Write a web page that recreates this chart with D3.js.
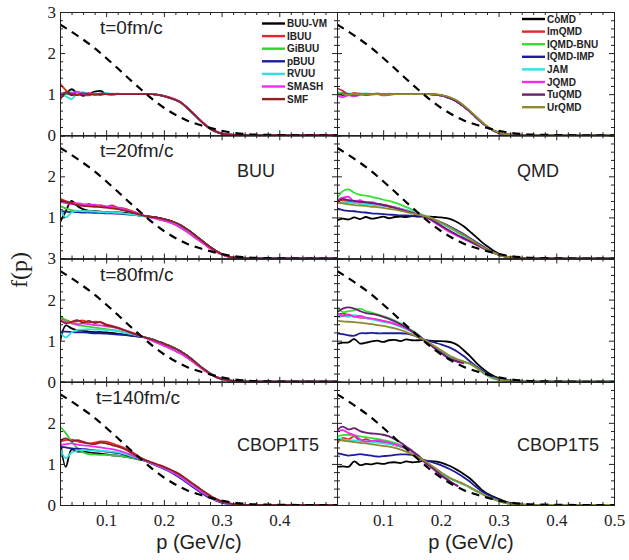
<!DOCTYPE html>
<html><head><meta charset="utf-8">
<script src="https://cdn.jsdelivr.net/npm/d3@7"></script>
<style>body{margin:0;background:#fff}</style>
</head><body>
<script>
// ---------- DATA ----------
const pGrid = [0.02,0.03,0.04,0.05,0.06,0.07,0.08,0.09,0.10,0.11,0.12,0.13,0.14,0.15,0.16,0.17,0.18,0.19,0.20,0.21,0.22,0.23,0.24,0.25,0.26,0.27,0.28,0.29,0.30,0.31,0.32,0.33,0.34,0.38,0.44,0.50];

const buuModels = ["BUU-VM","IBUU","GiBUU","pBUU","RVUU","SMASH","SMF"];
const buuColors = ["#000000","#e3262a","#35d035","#1c1ca0","#2fe0e0","#ee2aee","#8e2222"];
const qmdModels = ["CoMD","ImQMD","IQMD-BNU","IQMD-IMP","JAM","JQMD","TuQMD","UrQMD"];
const qmdColors = ["#000000","#e3262a","#35e035","#1c1ca0","#2fe0e0","#ee2aee","#6a1e70","#8e8a2e"];

const panelTimes = ["t=0fm/c","t=20fm/c","t=80fm/c","t=140fm/c"];
const leftTags = ["","BUU","","CBOP1T5"];
const rightTags = ["","QMD","","CBOP1T5"];

const xTicks = [0.1,0.2,0.3,0.4,0.5];
const xMinorTicks = [0.04,0.06,0.08,0.12,0.14,0.16,0.18,0.22,0.24,0.26,0.28,0.32,0.34,0.36,0.38,0.42,0.44,0.46,0.48];
const yTicksByRow = [[0,1,2,3],[1,2],[0,1,2,3],[0,1,2]];

// dashed reference distribution
const dashP = [0.02,0.04,0.06,0.08,0.10,0.12,0.14,0.16,0.18,0.20,0.22,0.24,0.26,0.28,0.30,0.32,0.34,0.36,0.40,0.45,0.50];
const dashF = [2.70,2.52,2.33,2.12,1.88,1.63,1.37,1.12,0.88,0.67,0.50,0.36,0.26,0.18,0.11,0.06,0.03,0.015,0.005,0,0];

// t = 0 fm/c
const buuT0 = [
[0.92,1.00,1.12,1.02,0.96,1.00,1.06,1.08,1.00,0.99,1.00,1.00,1.00,1.00,1.00,1.00,1.00,0.98,0.95,0.91,0.86,0.79,0.67,0.54,0.40,0.27,0.16,0.09,0.04,0.02,0.01,0.005,0,0.005,0,0],
[1.26,1.10,0.98,1.05,1.00,0.97,1.02,0.98,1.01,1.00,1.01,1.00,1.00,1.00,1.00,1.00,1.00,0.98,0.96,0.92,0.87,0.80,0.68,0.55,0.41,0.28,0.17,0.09,0.04,0.02,0.01,0.005,0,0,0,0],
[1.02,1.00,1.04,0.99,1.00,1.02,1.00,1.01,1.00,1.00,1.00,1.00,1.00,1.00,1.00,1.00,1.00,0.98,0.95,0.91,0.86,0.78,0.66,0.53,0.40,0.27,0.16,0.09,0.04,0.02,0.01,0,0,0,0,0],
[1.00,1.03,0.98,1.02,1.00,1.01,0.99,1.00,1.00,1.00,1.00,1.00,1.00,1.00,1.00,1.00,1.00,0.98,0.95,0.91,0.86,0.79,0.67,0.54,0.40,0.27,0.16,0.09,0.04,0.02,0.01,0,0,0,0,0],
[1.05,0.95,0.88,1.02,1.05,1.00,1.02,1.00,1.03,1.00,1.00,1.00,1.00,1.00,1.00,1.00,1.00,0.98,0.95,0.91,0.86,0.79,0.67,0.54,0.40,0.27,0.16,0.09,0.04,0.02,0.01,0,0,0,0,0],
[1.00,1.04,1.02,1.06,1.00,1.03,1.00,1.02,1.00,1.01,1.00,1.00,1.00,1.00,1.00,1.00,1.00,0.98,0.95,0.92,0.87,0.80,0.68,0.55,0.41,0.28,0.17,0.10,0.05,0.02,0.01,0,0,0,0,0],
[0.85,1.05,1.00,0.98,1.02,1.00,0.99,1.00,1.00,1.00,1.00,1.00,1.00,1.00,1.00,1.00,1.00,0.98,0.95,0.91,0.86,0.79,0.67,0.54,0.40,0.27,0.16,0.09,0.04,0.02,0.01,0.005,0,0,0,0]
];
const qmdT0 = [
[1.00,1.02,0.99,1.00,1.01,0.99,1.00,1.01,1.00,1.00,1.00,1.00,1.00,1.00,1.00,1.00,1.00,0.99,0.97,0.93,0.88,0.80,0.70,0.58,0.45,0.32,0.21,0.12,0.06,0.03,0.015,0.005,0,0,0,0],
[1.15,1.08,1.00,1.03,1.00,0.98,1.00,1.00,1.00,1.00,1.00,1.00,1.00,1.00,1.00,1.00,1.00,0.99,0.97,0.93,0.88,0.80,0.70,0.58,0.45,0.32,0.21,0.12,0.06,0.03,0.015,0.005,0,0,0,0],
[1.05,1.02,1.00,1.01,1.00,1.00,1.00,1.00,1.00,1.00,1.00,1.00,1.00,1.00,1.00,1.00,1.00,0.99,0.97,0.94,0.89,0.81,0.71,0.59,0.46,0.33,0.21,0.12,0.06,0.03,0.015,0.005,0,0,0,0],
[1.00,0.98,1.00,0.99,1.00,1.00,1.00,1.00,1.00,1.00,1.00,1.00,1.00,1.00,1.00,1.00,1.00,0.99,0.97,0.93,0.88,0.80,0.70,0.58,0.45,0.32,0.21,0.12,0.06,0.03,0.015,0.005,0,0,0,0],
[1.03,1.00,1.02,1.00,1.01,1.02,1.00,1.01,1.00,1.01,1.00,1.00,1.00,1.00,1.00,1.00,1.00,0.99,0.97,0.93,0.88,0.80,0.70,0.58,0.45,0.32,0.21,0.12,0.06,0.03,0.015,0.005,0,0,0,0],
[0.96,0.93,0.97,0.95,0.98,1.00,0.99,1.00,0.97,0.98,1.00,1.00,1.00,1.00,1.00,1.00,1.00,0.99,0.97,0.93,0.88,0.80,0.70,0.58,0.45,0.32,0.21,0.12,0.06,0.03,0.015,0.005,0,0,0,0],
[1.00,1.01,1.00,0.99,1.00,1.00,1.00,1.00,1.00,1.00,1.00,1.00,1.00,1.00,1.00,1.00,1.00,0.99,0.97,0.93,0.88,0.80,0.70,0.58,0.45,0.32,0.21,0.12,0.06,0.03,0.015,0.005,0,0,0,0],
[1.02,1.00,0.99,1.00,1.00,1.00,1.00,1.00,1.00,1.00,1.00,1.00,1.00,1.00,1.00,1.00,1.00,1.00,0.98,0.95,0.90,0.83,0.72,0.60,0.47,0.34,0.22,0.13,0.07,0.03,0.015,0.005,0,0,0,0]
];

// t = 20 fm/c
const buuT20 = [
[0.88,1.15,1.40,1.28,1.20,1.16,1.15,1.14,1.13,1.12,1.12,1.11,1.10,1.07,1.05,1.03,1.01,0.99,0.96,0.92,0.87,0.80,0.71,0.61,0.50,0.39,0.28,0.19,0.11,0.06,0.03,0.015,0.005,0,0,0],
[1.46,1.40,1.36,1.32,1.30,1.33,1.28,1.30,1.26,1.29,1.24,1.22,1.18,1.13,1.07,1.02,0.99,0.96,0.92,0.88,0.82,0.74,0.65,0.55,0.45,0.35,0.25,0.17,0.10,0.05,0.03,0.01,0.005,0,0,0],
[1.28,1.22,1.18,1.16,1.15,1.14,1.14,1.13,1.12,1.11,1.10,1.09,1.08,1.06,1.04,1.02,1.00,0.97,0.94,0.90,0.84,0.77,0.68,0.58,0.48,0.37,0.27,0.18,0.11,0.06,0.03,0.015,0.005,0,0,0],
[1.15,1.14,1.13,1.13,1.12,1.12,1.11,1.11,1.10,1.10,1.09,1.08,1.07,1.06,1.04,1.03,1.01,0.99,0.96,0.92,0.87,0.80,0.71,0.61,0.50,0.39,0.28,0.19,0.11,0.06,0.03,0.015,0.005,0,0,0],
[1.20,1.00,1.12,1.16,1.15,1.15,1.14,1.13,1.12,1.12,1.11,1.10,1.08,1.06,1.04,1.02,1.00,0.97,0.94,0.90,0.84,0.77,0.68,0.58,0.48,0.37,0.27,0.18,0.11,0.06,0.03,0.015,0.005,0,0,0],
[1.38,1.35,1.33,1.35,1.32,1.30,1.31,1.28,1.27,1.25,1.23,1.20,1.16,1.12,1.07,1.02,0.99,0.96,0.92,0.88,0.82,0.74,0.65,0.55,0.45,0.35,0.25,0.17,0.10,0.05,0.03,0.01,0.005,0,0,0],
[1.42,1.38,1.34,1.30,1.28,1.27,1.26,1.25,1.24,1.22,1.20,1.17,1.14,1.10,1.06,1.03,1.01,0.99,0.96,0.92,0.87,0.80,0.71,0.61,0.50,0.39,0.28,0.19,0.11,0.06,0.03,0.015,0.005,0,0,0]
];
const qmdT20 = [
[0.93,0.97,0.95,1.00,0.96,1.01,0.97,0.99,1.02,0.98,1.01,1.02,1.01,1.03,1.02,1.02,1.02,1.01,1.00,0.98,0.94,0.87,0.78,0.66,0.54,0.41,0.30,0.20,0.12,0.06,0.03,0.01,0.005,0,0,0],
[1.40,1.42,1.38,1.40,1.37,1.36,1.35,1.33,1.31,1.28,1.25,1.21,1.17,1.13,1.09,1.05,1.00,0.93,0.86,0.79,0.71,0.63,0.55,0.47,0.38,0.29,0.21,0.15,0.09,0.05,0.03,0.015,0.005,0,0,0],
[1.46,1.64,1.68,1.60,1.55,1.53,1.50,1.47,1.43,1.40,1.36,1.31,1.25,1.19,1.12,1.05,1.00,0.93,0.86,0.79,0.71,0.63,0.55,0.47,0.38,0.29,0.21,0.15,0.09,0.05,0.03,0.015,0.005,0,0,0],
[1.22,1.18,1.16,1.15,1.13,1.12,1.10,1.09,1.08,1.07,1.06,1.05,1.05,1.04,1.04,1.03,0.99,0.94,0.88,0.82,0.75,0.67,0.59,0.50,0.41,0.32,0.23,0.16,0.10,0.05,0.03,0.01,0.005,0,0,0],
[1.35,1.37,1.36,1.35,1.33,1.32,1.31,1.29,1.28,1.26,1.24,1.21,1.18,1.14,1.10,1.05,1.00,0.93,0.86,0.79,0.71,0.63,0.55,0.47,0.38,0.29,0.21,0.15,0.09,0.05,0.03,0.015,0.005,0,0,0],
[1.42,1.48,1.50,1.38,1.42,1.36,1.37,1.33,1.30,1.27,1.24,1.20,1.16,1.12,1.08,1.03,0.96,0.87,0.78,0.69,0.61,0.54,0.47,0.41,0.34,0.27,0.20,0.14,0.09,0.05,0.03,0.015,0.005,0,0,0],
[1.38,1.45,1.42,1.40,1.38,1.37,1.35,1.33,1.30,1.27,1.23,1.19,1.15,1.11,1.07,1.03,0.97,0.89,0.80,0.72,0.64,0.56,0.49,0.42,0.35,0.28,0.21,0.15,0.09,0.05,0.03,0.015,0.005,0,0,0],
[1.36,1.34,1.32,1.30,1.29,1.28,1.26,1.25,1.23,1.21,1.19,1.16,1.13,1.10,1.07,1.04,1.00,0.94,0.88,0.81,0.73,0.65,0.57,0.48,0.39,0.30,0.22,0.15,0.09,0.05,0.03,0.015,0.005,0,0,0]
];

// t = 80 fm/c
const buuT80 = [
[0.96,1.37,1.30,1.25,1.24,1.22,1.21,1.21,1.20,1.19,1.17,1.15,1.13,1.11,1.09,1.07,1.03,0.98,0.93,0.87,0.81,0.73,0.64,0.53,0.41,0.30,0.20,0.12,0.07,0.04,0.02,0.01,0.005,0,0,0],
[1.55,1.50,1.45,1.47,1.49,1.44,1.46,1.45,1.40,1.36,1.32,1.27,1.22,1.17,1.12,1.06,1.00,0.94,0.88,0.82,0.75,0.68,0.59,0.49,0.38,0.28,0.19,0.12,0.07,0.04,0.02,0.01,0.005,0,0,0],
[1.60,1.50,1.42,1.38,1.36,1.34,1.32,1.30,1.28,1.26,1.24,1.21,1.17,1.13,1.10,1.07,1.03,0.98,0.93,0.87,0.81,0.73,0.64,0.53,0.41,0.30,0.20,0.12,0.07,0.04,0.02,0.01,0.005,0,0,0],
[1.22,1.22,1.21,1.20,1.20,1.19,1.18,1.18,1.17,1.16,1.15,1.14,1.13,1.11,1.09,1.07,1.03,0.98,0.93,0.87,0.81,0.73,0.64,0.53,0.41,0.30,0.20,0.12,0.07,0.04,0.02,0.01,0.005,0,0,0],
[1.22,1.08,1.20,1.26,1.27,1.28,1.27,1.27,1.26,1.25,1.23,1.20,1.17,1.14,1.10,1.07,1.03,0.98,0.93,0.87,0.81,0.73,0.64,0.53,0.41,0.30,0.20,0.12,0.07,0.04,0.02,0.01,0.005,0,0,0],
[1.49,1.46,1.43,1.40,1.42,1.40,1.38,1.37,1.35,1.33,1.30,1.26,1.21,1.16,1.11,1.06,1.00,0.94,0.88,0.82,0.75,0.68,0.59,0.49,0.38,0.28,0.19,0.12,0.07,0.04,0.02,0.01,0.005,0,0,0],
[1.50,1.42,1.46,1.50,1.44,1.48,1.43,1.45,1.38,1.35,1.31,1.26,1.21,1.16,1.11,1.07,1.03,0.98,0.93,0.87,0.81,0.73,0.64,0.53,0.41,0.30,0.20,0.12,0.07,0.04,0.02,0.01,0.005,0,0,0]
];
const qmdT80 = [
[0.92,0.95,0.96,1.04,0.93,0.95,0.98,1.00,0.97,1.01,1.02,0.99,1.03,1.01,1.01,1.02,1.00,0.99,0.99,0.98,0.95,0.88,0.76,0.63,0.48,0.35,0.24,0.15,0.09,0.05,0.03,0.015,0.005,0,0,0],
[1.63,1.66,1.62,1.60,1.56,1.55,1.53,1.51,1.48,1.45,1.41,1.36,1.30,1.22,1.14,1.03,0.94,0.84,0.74,0.64,0.57,0.52,0.48,0.44,0.36,0.25,0.16,0.09,0.05,0.03,0.015,0.005,0,0,0,0],
[1.82,1.70,1.72,1.74,1.78,1.72,1.68,1.64,1.60,1.55,1.49,1.42,1.34,1.25,1.16,1.03,0.94,0.84,0.74,0.64,0.57,0.52,0.48,0.44,0.36,0.25,0.16,0.09,0.05,0.03,0.015,0.005,0,0,0,0],
[1.18,1.16,1.13,1.12,1.18,1.18,1.19,1.18,1.18,1.18,1.18,1.18,1.17,1.14,1.09,1.03,0.99,0.95,0.91,0.86,0.80,0.72,0.62,0.50,0.39,0.29,0.20,0.13,0.08,0.04,0.02,0.01,0.005,0,0,0],
[1.56,1.60,1.58,1.62,1.58,1.55,1.52,1.49,1.46,1.43,1.39,1.34,1.28,1.21,1.13,1.03,0.94,0.84,0.74,0.64,0.57,0.52,0.48,0.44,0.36,0.25,0.16,0.09,0.05,0.03,0.015,0.005,0,0,0,0],
[1.66,1.60,1.64,1.58,1.60,1.56,1.54,1.51,1.48,1.45,1.41,1.36,1.30,1.22,1.14,1.02,0.92,0.80,0.70,0.60,0.53,0.48,0.45,null,null,null,null,null,null,null,null,null,null,null,null,null],
[1.69,1.78,1.81,1.78,1.72,1.67,1.65,1.62,1.58,1.53,1.47,1.40,1.32,1.23,1.14,1.02,0.92,0.81,0.71,0.61,0.54,0.49,0.46,null,null,null,null,null,null,null,null,null,null,null,null,null],
[1.49,1.47,1.46,1.45,1.44,1.42,1.40,1.38,1.36,1.33,1.30,1.26,1.21,1.15,1.09,1.03,0.95,0.86,0.77,0.68,0.60,0.54,0.49,0.44,0.36,0.26,0.17,0.10,0.05,0.03,0.015,0.005,0,0,0,0]
];

// t = 140 fm/c
const buuT140 = [
[1.60,0.93,1.35,1.30,1.30,1.28,1.26,1.25,1.23,1.21,1.20,1.18,1.16,1.13,1.10,1.07,1.01,0.96,0.90,0.83,0.76,0.67,0.57,0.47,0.37,0.28,0.20,0.13,0.08,0.04,0.02,0.01,0.005,0,0,0],
[1.54,1.58,1.59,1.55,1.52,1.50,1.52,1.55,1.54,1.50,1.45,1.40,1.33,1.24,1.15,1.08,1.03,0.98,0.93,0.87,0.80,0.72,0.62,0.52,0.42,0.32,0.23,0.15,0.09,0.05,0.02,0.01,0.005,0,0,0],
[1.91,1.75,1.55,1.38,1.28,1.24,1.23,1.22,1.22,1.21,1.20,1.18,1.16,1.13,1.10,1.07,1.01,0.96,0.90,0.83,0.76,0.67,0.57,0.47,0.37,0.28,0.20,0.13,0.08,0.04,0.02,0.01,0.005,0,0,0],
[1.42,1.40,1.38,1.37,1.36,1.35,1.33,1.32,1.30,1.28,1.26,1.23,1.19,1.15,1.11,1.06,1.00,0.94,0.88,0.81,0.73,0.64,0.54,0.44,0.34,0.25,0.17,0.11,0.06,0.03,0.015,0.005,0,0,0,0],
[1.38,1.14,1.28,1.32,1.34,1.33,1.33,1.32,1.31,1.30,1.28,1.25,1.21,1.16,1.12,1.07,1.01,0.96,0.90,0.83,0.76,0.67,0.57,0.47,0.37,0.28,0.20,0.13,0.08,0.04,0.02,0.01,0.005,0,0,0],
[1.46,1.48,1.50,1.47,1.45,1.44,1.42,1.40,1.38,1.36,1.33,1.29,1.24,1.18,1.12,1.07,1.01,0.96,0.90,0.83,0.76,0.67,0.57,0.47,0.37,0.28,0.20,0.13,0.08,0.04,0.02,0.01,0.005,0,0,0],
[1.56,1.62,1.55,1.58,1.54,1.50,1.48,1.52,1.50,1.46,1.42,1.37,1.30,1.22,1.14,1.08,1.03,0.98,0.93,0.87,0.80,0.72,0.62,0.52,0.42,0.32,0.23,0.15,0.09,0.05,0.02,0.01,0.005,0,0,0]
];
const qmdT140 = [
[0.93,0.94,0.93,1.06,0.97,1.00,0.99,1.02,1.00,1.03,1.04,1.02,1.06,1.04,1.05,1.08,1.07,1.06,1.03,0.98,0.92,0.84,0.75,0.65,0.52,0.38,0.28,0.21,0.15,0.09,0.05,0.025,0.01,0,0,0],
[1.50,1.63,1.60,1.67,1.56,1.60,1.55,1.54,1.52,1.49,1.46,1.42,1.37,1.29,1.20,1.08,0.98,0.88,0.78,0.69,0.62,0.56,0.50,0.43,0.35,0.28,0.21,0.15,0.10,0.06,0.03,0.015,0.005,0,0,0],
[1.67,1.70,1.71,1.69,1.67,1.65,1.63,1.61,1.58,1.55,1.51,1.46,1.39,1.31,1.21,1.08,0.98,0.88,0.78,0.69,0.62,0.56,0.50,0.43,0.35,0.28,0.21,0.15,0.10,0.06,0.03,0.015,0.005,0,0,0],
[1.26,1.23,1.20,1.22,1.24,1.22,1.20,1.18,1.19,1.20,1.22,1.23,1.23,1.22,1.16,1.10,1.06,1.02,0.97,0.91,0.84,0.76,0.67,0.57,0.45,0.34,0.26,0.19,0.13,0.08,0.04,0.02,0.01,0,0,0],
[1.63,1.60,1.58,1.57,1.56,1.55,1.54,1.52,1.50,1.48,1.46,1.43,1.38,1.30,1.21,1.08,0.98,0.88,0.78,0.69,0.62,0.56,0.50,0.43,0.35,0.28,0.21,0.15,0.10,0.06,0.03,0.015,0.005,0,0,0],
[1.79,1.82,1.75,1.70,1.60,1.54,1.56,1.58,1.55,1.52,1.48,1.44,1.38,1.30,1.20,1.06,0.95,0.84,0.72,0.62,0.53,0.45,null,null,null,null,null,null,null,null,null,null,null,null,null,null],
[1.83,1.91,1.84,1.87,1.80,1.76,1.74,1.73,1.71,1.67,1.60,1.52,1.42,1.32,1.21,1.07,0.96,0.85,0.73,0.63,0.54,0.46,null,null,null,null,null,null,null,null,null,null,null,null,null,null],
[1.59,1.57,1.55,1.53,1.51,1.50,1.48,1.46,1.44,1.42,1.39,1.35,1.30,1.24,1.17,1.09,1.00,0.90,0.80,0.71,0.63,0.57,0.51,0.44,0.36,0.28,0.21,0.15,0.10,0.06,0.03,0.015,0.005,0,0,0]
];

const buuPanels = [buuT0, buuT20, buuT80, buuT140];
const qmdPanels = [qmdT0, qmdT20, qmdT80, qmdT140];

// ---------- LAYOUT ----------
const W = 629, H = 560;
const colX = [[60,337],[337,614]];
const top0 = 12, panelH = 123.25;
const svg = d3.select("body").append("svg").attr("width",W).attr("height",H)
  .style("font-family","'Liberation Sans', Arial, sans-serif");
svg.append("rect").attr("width",W).attr("height",H).attr("fill","#fff");

const serif = "'Liberation Serif','Times New Roman',serif";

function drawPanel(row, col) {
  const x = d3.scaleLinear().domain([0.02,0.5]).range(colX[col]);
  const yTop = top0 + panelH*row, yBot = yTop + panelH;
  const y = d3.scaleLinear().domain([0,3]).range([yBot, yTop]);
  const g = svg.append("g");
  const clipId = `clip-${row}-${col}`;
  g.append("clipPath").attr("id",clipId).append("rect")
    .attr("x",colX[col][0]).attr("y",yTop).attr("width",colX[col][1]-colX[col][0]).attr("height",panelH);

  const data = col===0 ? buuPanels[row] : qmdPanels[row];
  const colors = col===0 ? buuColors : qmdColors;
  const line = d3.line().defined(d => d[1] != null)
    .x(d => x(d[0])).y(d => y(d[1])).curve(d3.curveCatmullRom.alpha(0.5));
  const cg = g.append("g").attr("clip-path",`url(#${clipId})`);
  data.forEach((vals,i) => {
    cg.append("path").datum(pGrid.map((p,k)=>[p, vals[k]]))
      .attr("d", line).attr("fill","none").attr("stroke",colors[i])
      .attr("stroke-width", 1.8).attr("stroke-linejoin","round");
  });
  cg.append("path").datum(dashP.map((p,k)=>[p, dashF[k]]))
    .attr("d", d3.line().x(d=>x(d[0])).y(d=>y(d[1])).curve(d3.curveMonotoneX))
    .attr("fill","none").attr("stroke","#000").attr("stroke-width",2.2)
    .attr("stroke-dasharray","8,6");

  const axStyle = sel => { sel.select(".domain").attr("stroke","#222"); sel.selectAll(".tick line").attr("stroke","#222"); };
  const isBottom = row===3;
  const bMaj = d3.axisBottom(x).tickValues(col===0 ? xTicks.slice(0,4) : xTicks).tickSize(-5).tickPadding(9)
    .tickFormat(isBottom ? d3.format(".1f") : "");
  const bAx = g.append("g").attr("transform",`translate(0,${yBot})`).call(bMaj).call(axStyle);
  bAx.selectAll("text").attr("font-family",serif).attr("font-size",17).attr("fill","#222");
  g.append("g").attr("transform",`translate(0,${yBot})`)
    .call(d3.axisBottom(x).tickValues(xMinorTicks).tickSize(-3).tickFormat("")).call(axStyle);
  g.append("g").attr("transform",`translate(0,${yTop})`)
    .call(d3.axisTop(x).tickValues(xTicks).tickSize(-5).tickFormat("")).call(axStyle);
  g.append("g").attr("transform",`translate(0,${yTop})`)
    .call(d3.axisTop(x).tickValues(xMinorTicks).tickSize(-3).tickFormat("")).call(axStyle);

  const yMinor = d3.range(1,15).map(k=>k*0.2).filter(v => Math.abs(v - Math.round(v))>1e-6);
  const lMaj = d3.axisLeft(y).tickValues(col===0 ? yTicksByRow[row] : [1,2]).tickSize(-5).tickPadding(4)
    .tickFormat(col===0 ? d3.format("d") : "");
  const lAx = g.append("g").attr("transform",`translate(${colX[col][0]},0)`).call(lMaj).call(axStyle);
  lAx.selectAll("text").attr("font-family",serif).attr("font-size",17).attr("fill","#222");
  g.append("g").attr("transform",`translate(${colX[col][0]},0)`)
    .call(d3.axisLeft(y).tickValues(yMinor).tickSize(-3).tickFormat("")).call(axStyle);
  g.append("g").attr("transform",`translate(${colX[col][1]},0)`)
    .call(d3.axisRight(y).tickValues([1,2]).tickSize(-5).tickFormat("")).call(axStyle);
  g.append("g").attr("transform",`translate(${colX[col][1]},0)`)
    .call(d3.axisRight(y).tickValues(yMinor).tickSize(-3).tickFormat("")).call(axStyle);

  if (col===0) {
    g.append("text").attr("x", row===3 ? 96 : 100).attr("y", yTop + 22)
      .attr("font-size",19).attr("fill","#222").text(panelTimes[row]);
  }
  const tag = col===0 ? leftTags[row] : rightTags[row];
  if (tag) {
    g.append("text").attr("x", col===0 ? 237 : 517).attr("y", row===1 ? yTop+42 : yTop+69)
      .attr("font-size",18).attr("fill","#222").text(tag);
  }
}

for (let r=0;r<4;r++) for (let c=0;c<2;c++) drawPanel(r,c);

function legend(models, colors, x0, y0, dy) {
  const lg = svg.append("g");
  models.forEach((m,i) => {
    const yy = y0 + i*dy;
    lg.append("line").attr("x1",x0).attr("x2",x0+23).attr("y1",yy).attr("y2",yy)
      .attr("stroke",colors[i]).attr("stroke-width",2.4);
    lg.append("text").attr("x",x0+25).attr("y",yy).attr("dy","0.35em")
      .attr("font-size",10).attr("font-weight","bold").attr("fill","#222").text(m);
  });
}
legend(buuModels, buuColors, 262, 23.5, 12.6);
legend(qmdModels, qmdColors, 522, 19, 12.6);

svg.append("text").attr("transform","translate(27,270) rotate(-90)").attr("text-anchor","middle")
  .attr("font-family",serif).attr("font-size",24).attr("fill","#222").text("f(p)");
svg.append("text").attr("x",199).attr("y",549).attr("text-anchor","middle")
  .attr("font-size",20).attr("fill","#222").text("p (GeV/c)");
svg.append("text").attr("x",471).attr("y",549).attr("text-anchor","middle")
  .attr("font-size",20).attr("fill","#222").text("p (GeV/c)");
</script>
</body></html>
